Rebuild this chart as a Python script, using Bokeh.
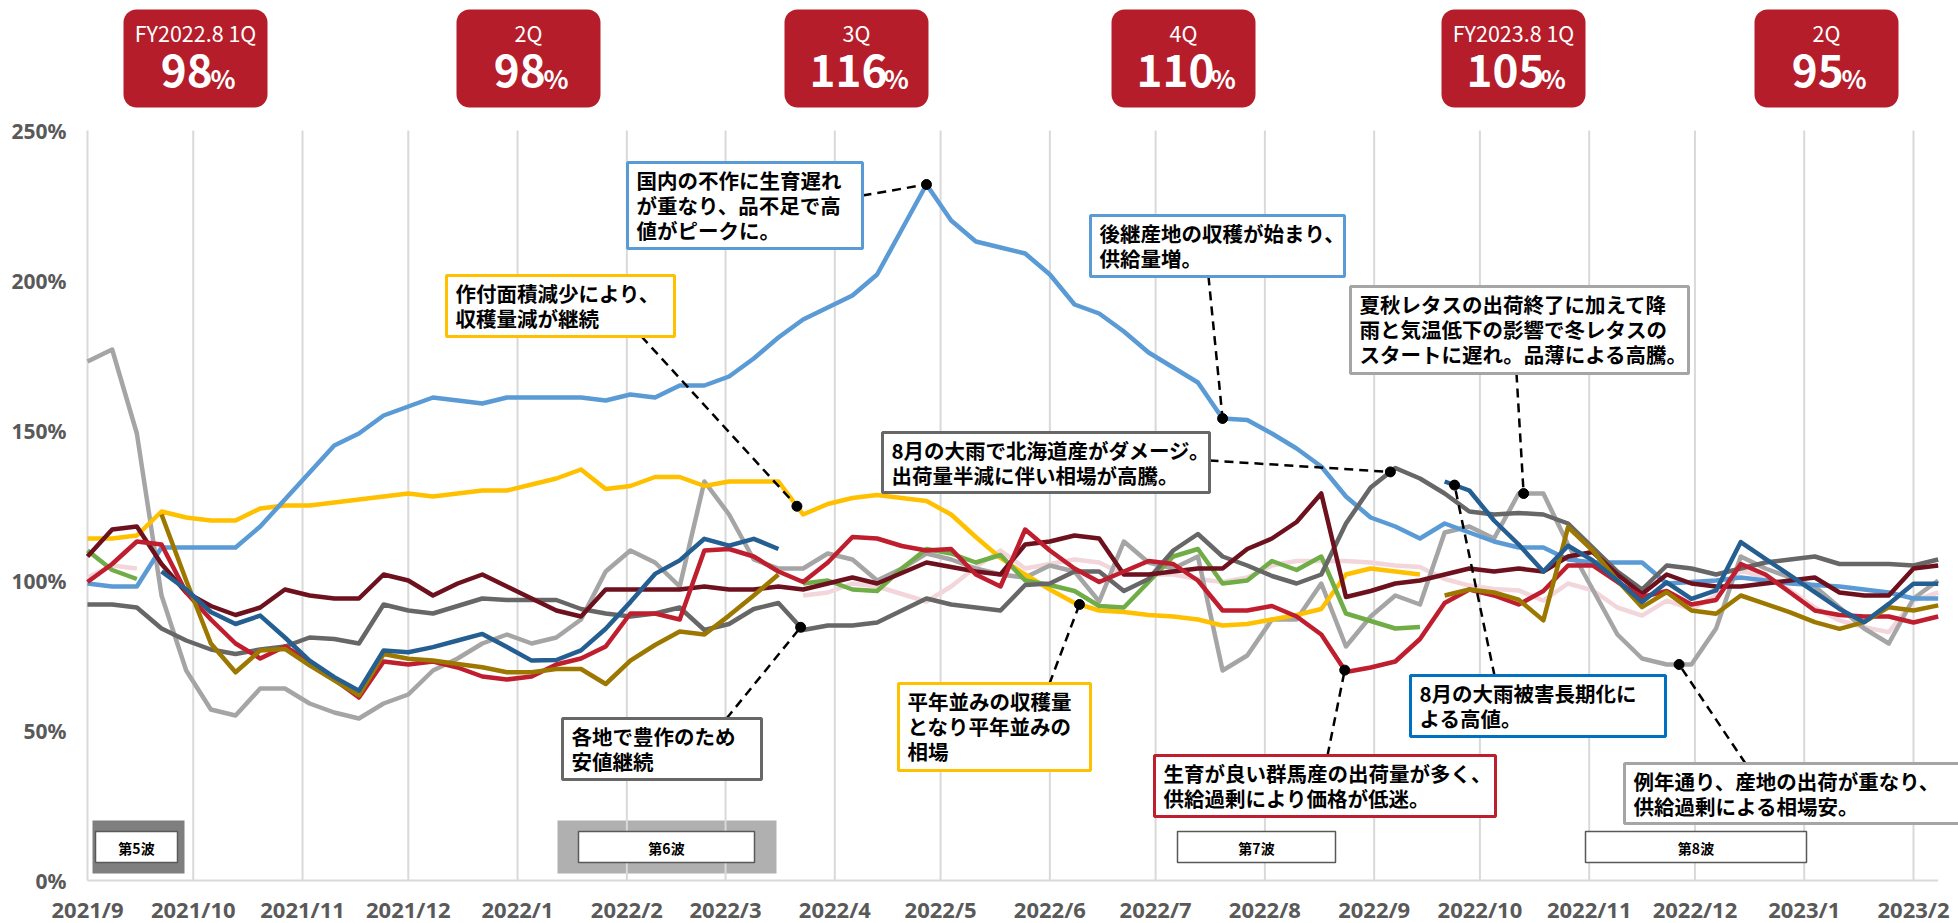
import numpy as np
import pandas as pd
from bokeh.plotting import figure
from bokeh.models import Range1d
from bokeh.core.properties import value
from bokeh.embed import file_html
from bokeh.resources import INLINE

N = None
# ---------------- data ----------------
start = pd.Timestamp("2021-09-01")
week_dates = pd.date_range(start, periods=76, freq="7D")
month_starts = pd.date_range("2021-09-01", "2023-02-01", freq="MS")
month_labels = [f"{d.year}/{d.month}" for d in month_starts]
y_ticks = [0, 50, 100, 150, 200, 250]
y_tick_labels = [f"{t}%" for t in y_ticks]

light_blue = [99, 98, 98, 111, 111, 111, 111, 118, 127, 136, 145, 149, 155, 158, 161, 160, 159, 161, 161, 161,
              161, 160, 162, 161, 165, 165, 168, 174, 181, 187, 191, 195, 202, 217, 232, 220, 213, 211, 209, 202,
              192, 189, 183, 176, 171, 166, 154, 153.5, 149, 144, 138, 128, 121, 118, 114, 119, 116, 113, 111, 111,
              107, 106, 106, 106, 99, 99.5, 100, 101, 100, 99, 98.5, 98, 97, 96, 94, 94]
yellow = [114, 114, 115, 123, 121, 120, 120, 124, 125, 125, 126, 127, 128, 129, 128, 129, 130, 130, 132, 134,
          137, 130.5, 131.5, 134.5, 134.5, 131.5, 133, 133, 133, 122, 125.5, 127.5, 128.5, 127.5, 126.5, 122, 114.5, 107.5, 102, 97,
          92.5, 90, 89.5, 88.5, 88, 87, 85, 85.5, 87, 88.5, 90.5, 102, 104, 103, 102, N, N, N, N, N,
          N, N, N, N, N, N, N, N, N, N, N, N, N, N, N, N]
light_gray = [173, 177, 149, 95, 70, 57, 55, 64, 64, 59, 56, 54, 59, 62, 70, 74, 79, 82, 79, 81,
              87, 103, 110, 106, 98, 133, 122, 107, 104, 104, 109, 107, 100, 104, 109, 107, 104, 102, 101, 105,
              103, 93, 113, 106, 104, 108, 70, 75, 87, 87, 99, 78, 88, 95, 92, 116, 118, 114, 129, 129,
              112, 97, 82, 74, 72, 72, 84, 108, 104, 101, 98, 91, 84, 79, 94, 100]
dark_gray = [92, 92, 91, 84, 80, 77, 75.5, 77, 78, 81, 80.5, 79, 92, 90, 89, 91.5, 94, 93.5, 93.5, 93.5,
             90.5, 89, 88, 89, 91, 83.5, 85.5, 90.5, 92.5, 83.5, 85, 85, 86, 90, 94, 92, 91, 90, 98.5, 99,
             103, 103, 96.5, 100.5, 110, 115.5, 108, 105, 101.5, 99, 102, 119, 131, 137.5, 134, 129, 123, 122, 122.5, 122,
             119, 111, 103, 97, 105, 104, 102, 104, 106, 107, 108, 105.5, 105.5, 105.5, 105, 107]
crimson = [99.5, 105.5, 113, 112, 96, 87, 79, 74, 78, 73, 67, 61, 73, 72, 73, 71, 68, 67, 68, 72,
           74, 78, 89, 89, 87, 110, 110.5, 108, 103, 99.5, 106, 114.5, 114, 111.5, 110, 110.5, 102, 98, 117, 110,
           104, 99.5, 103, 106.5, 105.5, 100, 90, 90, 91.5, 88, 82, 69.5, 71, 73, 80.5, 92.5, 97, 95, 92, 96.5,
           105, 105, 99.5, 94.5, 96.5, 92, 93.5, 105.5, 102, 96, 90, 88.5, 88, 88, 86, 88]
maroon = [108, 117, 118, 105.5, 96, 91.5, 88.5, 91, 97, 95, 94, 94, 102, 100, 95, 99, 102, 98, 94, 90,
          88, 97, 97, 97, 97, 98, 97, 97, 98, 97, 99, 101, 99, 102.5, 106, 104.5, 103, 102, 112, 113,
          115, 114, 102, 102, 103, 104, 104, 110.5, 114, 119.5, 129, 94.5, 96.5, 99, 100, 102, 104, 103, 104, 103,
          108, 109.5, 102, 95.5, 102, 99, 98, 98, 99, 100, 101, 96, 95, 95, 104, 105]
green = [110, 103.5, 100.5, N, N, N, N, N, N, N, N, N, N, N, N, N, N, N, N, N,
         N, N, N, N, N, N, N, N, N, 99, 100, 97, 96.5, 104, 110.5, 109, 106, 108.5, 100, 98.5,
         96.5, 91.5, 91, 99.5, 108, 110.5, 99, 100, 106.5, 103.5, 108, 89, 86.5, 84, 84.5, N, N, N, N, N,
         N, N, N, N, N, N, N, N, N, N, N, N, N, N, N, N]
pink = [101, 105, 104, N, N, N, N, N, N, N, N, N, N, N, N, N, N, N, N, N,
        N, N, N, N, N, N, N, N, N, 95, 96, 99, 98, 95.5, 93, 98, 104.5, 110, 104, 105.5,
        107, 106, 102, 102, 102, 100.5, 99.5, 101, 105, 106.5, 106.5, 106.5, 106, 105, 104.5, 100.5, 98.3, 97.2, 96.7, 93.3,
        99, 96.7, 91, 88.3, 93.3, 90.5, 95, 103.3, 101, 96.7, 91, 86.7, 84.4, 82.8, 93.3, 96]
dark_blue = [N, N, N, 103, 97, 89.5, 85.5, 88.3, 81, 73.3, 67.8, 63.3, 76.7, 76.1, 77.8, 80, 82.2, 77.8, 73.3, 73.5,
             76.7, 83.9, 92.8, 102.2, 106.7, 113.9, 111.6, 113.9, 110.5, N, N, N, N, N, N, N, N, N, N, N,
             N, N, N, N, N, N, N, N, N, N, N, N, N, N, N, 133, 130, 120, 112, 103,
             111.6, 106.7, 100, 92.8, 99.4, 93.9, 96.7, 112.8, 107.2, 101.7, 96.1, 90.5, 86.1, 92.2, 98.9, 98.9]
olive = [N, N, N, 122, 100, 79, 69.4, 76.7, 77.2, 71.7, 66.7, 61.7, 75.5, 73.9, 73.3, 72.2, 71.1, 69.4, 69.4, 70.5,
         70.5, 65.5, 73.3, 78.5, 83, 82, 88.3, 95, 102, N, N, N, N, N, N, N, N, N, N, N,
         N, N, N, N, N, N, N, N, N, N, N, N, N, N, N, 95, 97, 96, 93.6, 86.7,
         117.8, 110, 100, 91.1, 96.1, 90, 88.9, 95, 92.2, 89.4, 86.1, 83.9, 86.1, 91.1, 90, 91.7]

quarter_titles = ["FY2022.8 1Q", "2Q", "3Q", "4Q", "FY2023.8 1Q", "2Q"]
quarter_values = ["98", "98", "116", "110", "105", "95"]
wave_labels = ["第5波", "第6波", "第7波", "第8波"]

# ---------------- styles & layout ----------------
series = [
    ("pink", pink, "#F2D6DB"),
    ("light_gray", light_gray, "#A5A5A5"),
    ("yellow", yellow, "#FFC000"),
    ("green", green, "#70AD47"),
    ("light_blue", light_blue, "#5B9BD5"),
    ("dark_gray", dark_gray, "#676767"),
    ("maroon", maroon, "#6E111E"),
    ("crimson", crimson, "#BF1E2E"),
    ("olive", olive, "#9C7800"),
    ("dark_blue", dark_blue, "#255E91"),
]
series_map = {name: np.array([np.nan if v is None else v for v in vals], float) for name, vals, _ in series}

x_days = np.array((week_dates - start).days, float)
month_days = np.array((month_starts - start).days, float)

PX_PER_DAY = 3.5251
def px2x(px):
    return (px - 87) / PX_PER_DAY
def px2y(py):
    return (880 - py) / 3.0

JP = value("Noto Sans CJK JP")
LAT = value("Noto Sans")

W, H = 1958, 923
p = figure(width=W, height=H, x_range=Range1d(px2x(0), px2x(W)),
           y_range=Range1d(px2y(H), px2y(0)), x_axis_location=None, y_axis_location=None,
           output_backend="svg", toolbar_location=None, min_border_left=0, min_border_right=0,
           min_border_top=0, min_border_bottom=0)
p.outline_line_color = None
p.grid.visible = False
p.background_fill_color = "white"
p.border_fill_color = "white"

# y tick labels
p.text(x=[px2x(66)] * len(y_ticks), y=y_ticks, text=y_tick_labels, text_font=LAT, text_font_size="21px",
       text_font_style="bold", text_align="right", text_baseline="middle", text_color="#595959")

# wave boxes (outer shaded areas first)
wave_outer = [(92, 184, "#7F7F7F"), (557, 776, "#B0B0B0")]
for l, r, c in wave_outer:
    p.quad(left=[px2x(l)], right=[px2x(r)], top=[px2y(820)], bottom=[px2y(873)], fill_color=c, line_color=None)

# gridlines
p.segment(x0=month_days, y0=[0] * len(month_days), x1=month_days, y1=[250] * len(month_days),
          line_color="#D9D9D9", line_width=2)
p.segment(x0=[x_days[0]], y0=[0], x1=[x_days[-1]], y1=[0], line_color="#D9D9D9", line_width=2)

wave_inner = [(95, 177), (578, 754), (1177, 1335), (1585, 1806)]
for (l, r), lab in zip(wave_inner, wave_labels):
    p.quad(left=[px2x(l)], right=[px2x(r)], top=[px2y(831)], bottom=[px2y(862)], fill_color="white",
           line_color="#595959", line_width=1.5)
    p.text(x=[px2x((l + r) / 2)], y=[px2y(847)], text=[lab], text_font=JP, text_font_size="14px",
           text_font_style="bold", text_align="center", text_baseline="middle", text_color="black")

# month labels
p.text(x=month_days, y=[px2y(908)] * len(month_days), text=month_labels, text_font=LAT,
       text_font_size="22px", text_font_style="bold", text_align="center", text_baseline="middle",
       text_color="#595959")

# data lines
for name, vals, color in series:
    p.line(x_days, series_map[name], line_color=color, line_width=4.5, line_join="round")

# annotations
annotations = [
    (["国内の不作に生育遅れ", "が重なり、品不足で高", "値がピークに。"], (627, 162, 862, 248), "#5B9BD5", "light_blue", 34.0, (862, 195)),
    (["後継産地の収穫が始まり、", "供給量増。"], (1090, 215, 1344, 276), "#5B9BD5", "light_blue", 46.0, (1208, 276)),
    (["作付面積減少により、", "収穫量減が継続"], (446, 275, 674, 336), "#FFC000", "yellow", 28.75, (641, 336)),
    (["8月の大雨で北海道産がダメージ。", "出荷量半減に伴い相場が高騰。"], (882, 432, 1209, 492), "#676767", "dark_gray", 52.8, (1209, 460)),
    (["夏秋レタスの出荷終了に加えて降", "雨と気温低下の影響で冬レタスの", "スタートに遅れ。品薄による高騰。"], (1350, 286, 1688, 373), "#A5A5A5", "light_gray", 58.2, (1516, 373)),
    (["各地で豊作のため", "安値継続"], (562, 718, 761, 779), "#676767", "dark_gray", 28.9, (726, 718)),
    (["平年並みの収穫量", "となり平年並みの", "相場"], (898, 683, 1090, 770), "#FFC000", "yellow", 40.2, (1049, 683)),
    (["生育が良い群馬産の出荷量が多く、", "供給過剰により価格が低迷。"], (1154, 755, 1495, 816), "#BF1E2E", "crimson", 50.95, (1327, 755)),
    (["8月の大雨被害長期化に", "よる高値。"], (1410, 675, 1665, 736), "#0070C0", "dark_blue", 55.4, (1494, 675)),
    (["例年通り、産地の出荷が重なり、", "供給過剰による相場安。"], (1624, 763, 1970, 823), "#A5A5A5", "light_gray", 64.5, (1745, 763)),
]
week_idx = np.arange(len(x_days), dtype=float)
for lines, (l, t, r, b), bc, sname, wk, (lx, ly) in annotations:
    vals = series_map[sname]
    ok = ~np.isnan(vals)
    dot_x = float(np.interp(wk, week_idx, x_days))
    dot_y = float(np.interp(wk, week_idx[ok], vals[ok]))
    p.line([px2x(lx), dot_x], [px2y(ly), dot_y], line_color="black", line_width=2.5, line_dash="9 6")
    p.scatter([dot_x], [dot_y], size=10, fill_color="black", line_color="black")
    p.quad(left=[px2x(l)], right=[px2x(r)], top=[px2y(t)], bottom=[px2y(b)], fill_color="white",
           line_color=bc, line_width=3)
    ys = [px2y(t + 17 + 25 * i) for i in range(len(lines))]
    p.text(x=[px2x(l + 9)] * len(lines), y=ys, text=lines, text_font=JP, text_font_size="20.5px",
           text_font_style="bold", text_align="left", text_baseline="middle", text_color="black")

# quarter boxes
box_lefts = [123, 456, 784, 1111, 1441, 1754]
BOX_W = 144
DIG_PX = 44
PCT_PX = 26
for bl, title, val in zip(box_lefts, quarter_titles, quarter_values):
    p.quad(left=[px2x(bl)], right=[px2x(bl + BOX_W)], top=[px2y(9)], bottom=[px2y(107)],
           fill_color="#B51D2B", line_color=None, border_radius=13)
    cx = bl + BOX_W / 2
    p.text(x=[px2x(cx)], y=[px2y(32)], text=[title], text_font=JP, text_font_size="21.5px",
           text_font_style="normal", text_align="center", text_baseline="middle", text_color="white")
    wd = 0.555 * DIG_PX * len(val)
    wp = 0.8 * PCT_PX
    gl = cx - (wd + wp) / 2
    p.text(x=[px2x(gl)], y=[px2y(70)], text=[val], text_font=JP, text_font_size=f"{DIG_PX}px",
           text_font_style="bold", text_align="left", text_baseline="middle", text_color="white")
    p.text(x=[px2x(gl + wd + 1)], y=[px2y(77)], text=["%"], text_font=JP, text_font_size=f"{PCT_PX}px",
           text_font_style="bold", text_align="left", text_baseline="middle", text_color="white")

open("out.html", "w").write(file_html(p, INLINE))
